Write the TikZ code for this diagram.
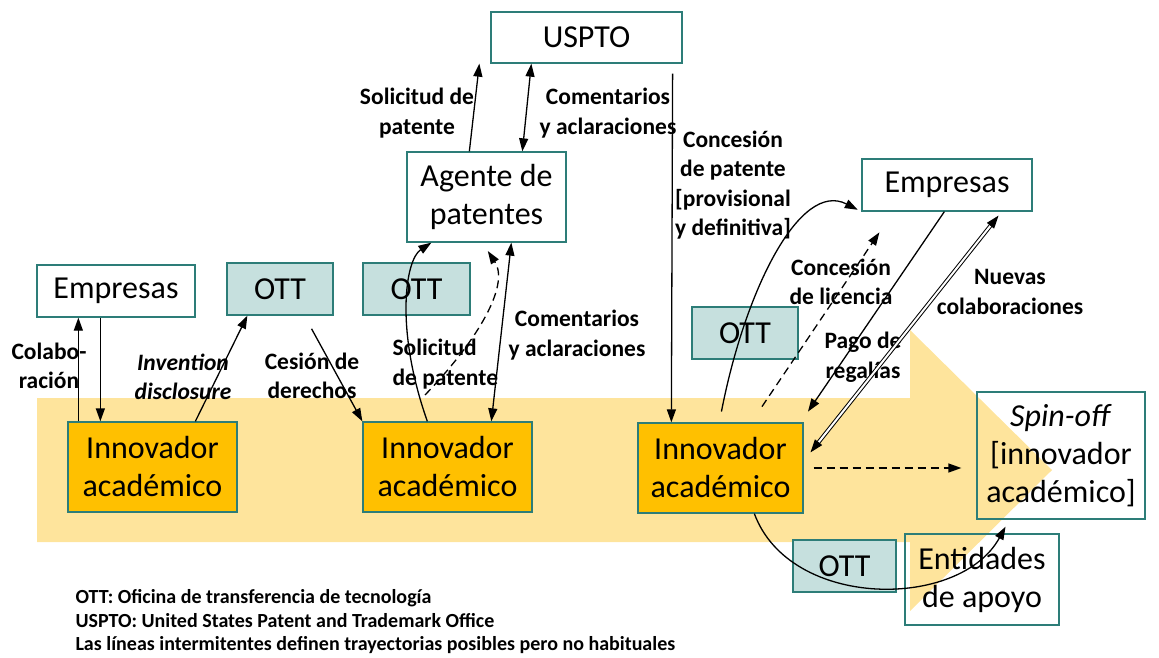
\documentclass[tikz,border=0pt]{standalone}
\usepackage{fontspec}
\setmainfont{Carlito}
\usepackage{tikz}
\usetikzlibrary{arrows.meta,positioning}

\definecolor{bordeteal}{RGB}{45,125,120}
\definecolor{relleno}{RGB}{198,224,222}
\definecolor{naranja}{RGB}{255,192,0}
\definecolor{banda}{RGB}{254,228,156}

\tikzset{
  caja/.style={draw=bordeteal, line width=1.3pt, align=center, inner sep=2pt,
    font=\fontsize{32}{38}\selectfont},
  ott/.style={caja, fill=relleno},
  innov/.style={caja, fill=naranja},
  etiq/.style={align=center, font=\fontsize{23.5}{29.5}\selectfont\bfseries},
  flecha/.style={line width=1.3pt, ->},
  doble/.style={line width=1.3pt, <->},
  trazos/.style={dash pattern=on 8pt off 5pt}
}

\begin{document}
\begin{tikzpicture}[x=1pt,y=-1pt,>={Triangle[length=13pt,width=9pt]}]

\useasboundingbox (0,0) rectangle (1159,658);

% banda de fondo
\fill[banda] (37,398) -- (910,398) -- (910,330) -- (1052,470) -- (910,611) -- (910,542) -- (37,542) -- cycle;

% cajas
\node[caja, minimum width=158pt, minimum height=52pt] (empL) at (116,291) {Empresas};
\node[ott, minimum width=106pt, minimum height=52pt] (ott1) at (280,289) {OTT};
\node[ott, minimum width=107pt, minimum height=52pt] (ott2) at (416.5,289) {OTT};
\node[innov, minimum width=169pt, minimum height=90pt] (inn1) at (152.5,467) {Innovador\\académico};
\node[innov, minimum width=169pt, minimum height=90pt] (inn2) at (447.5,467) {Innovador\\académico};
\node[innov, minimum width=165pt, minimum height=90pt] (inn3) at (720.5,468) {Innovador\\académico};
\node[caja, minimum width=191pt, minimum height=51pt] (uspto) at (586.5,37.5) {USPTO};
\node[caja, minimum width=159pt, minimum height=90pt] (agente) at (486.5,197) {Agente de\\patentes};
\node[caja, minimum width=170pt, minimum height=52pt] (empR) at (947,185) {Empresas};
\node[ott, minimum width=106pt, minimum height=52pt] (ott3) at (745,333) {OTT};
\node[caja, minimum width=168pt, minimum height=127pt] (spin) at (1061,455.5) {\textit{Spin-off}\\{[}innovador\\académico]};
\node[ott, minimum width=103pt, minimum height=52pt] (ott4) at (844.5,566) {OTT};
\node[caja, minimum width=154pt, minimum height=91pt] (ent) at (982,579.5) {Entidades\\de apoyo};

% etiquetas
\node[etiq] (lColab) at (49,366) {Colabo-\\ración};
\node[etiq, font=\fontsize{23.5}{29.5}\selectfont\bfseries\itshape] (lInv) at (183,377) {Invention\\disclosure};
\node[etiq] (lCes) at (312,376) {Cesión de\\derechos};
\node[etiq] (lSolA) at (417,113) {Solicitud de\\patente};
\node[etiq] (lComA) at (608,113) {Comentarios\\y aclaraciones};
\node[etiq] (lConP) at (733,185) {Concesión\\de patente\\{[}provisional\\y definitiva]};
\node[etiq] (lComB) at (577,335) {Comentarios\\y aclaraciones};
\node[etiq, align=left, anchor=west] (lSolB) at (389,364) {Solicitud\\de patente};
\node[etiq] (lLic) at (841,282) {Concesión\\de licencia};
\node[etiq] (lNue) at (1010,292) {Nuevas\\colaboraciones};
\node[etiq] (lPago) at (863,357) {Pago de\\regalías};

% flechas
\draw[flecha] ([xshift=11]inn1.north west) -- ([xshift=42]empL.south west);
\draw[flecha] ([xshift=64]empL.south west) -- ([xshift=33]inn1.north west);
\draw[flecha] ([xshift=128]inn1.north west) -- ([xshift=21]ott1.south west);
\draw[flecha, shorten <=15pt] ([xshift=78]ott1.south west) -- (inn2.north west);
\draw[flecha] ([xshift=65]inn2.north west) .. controls (395,330) and (405,260) .. ([xshift=25]agente.south west);
\coordinate (trazo) at (425,395);
\draw[flecha, trazos, shorten >=10pt] (trazo) .. controls (478,340) and (510,285) .. ([xshift=76]agente.south west);
\draw[doble] ([xshift=129]inn2.north west) -- ([xshift=105]agente.south west);
\draw[flecha] ([xshift=63]agente.north west) -- ([xshift=-11]uspto.south west);
\draw[doble] ([xshift=116]agente.north west) -- ([xshift=41]uspto.south west);
\draw[flecha, shorten <=10pt] ([xshift=-10]uspto.south east) -- ([xshift=34]inn3.north west);
\draw[flecha, shorten <=11pt, shorten >=4pt] ([xshift=82]inn3.north west) .. controls (745,290) and (800,180) .. (empR.south west);
\draw[flecha, trazos, shorten <=19pt, shorten >=25pt] ([xshift=114]inn3.north west) -- ([xshift=32]empR.south west);
\draw[flecha, shorten >=13pt] ([xshift=83]empR.south west) -- ([xshift=-3]inn3.north east);
\draw[doble, double, double distance=2pt, line width=1pt, shorten <=5pt, shorten >=11pt] ([xshift=-31]empR.south east) -- ([yshift=7]inn3.east);
\draw[flecha, trazos, shorten <=10pt, shorten >=15pt] (inn3.east) -- (inn3.east -| spin.west);
\draw[flecha, shorten >=8pt] ([xshift=117]inn3.south west) .. controls (790,610) and (960,610) .. ([xshift=33]spin.south west);

% leyenda
\node[anchor=west, align=left, font=\fontsize{20}{23.5}\selectfont\bfseries] (leyenda) at (72,622)
  {OTT: Oficina de transferencia de tecnología\\USPTO: United States Patent and Trademark Office\\Las líneas intermitentes definen trayectorias posibles pero no habituales};

\end{tikzpicture}
\end{document}
